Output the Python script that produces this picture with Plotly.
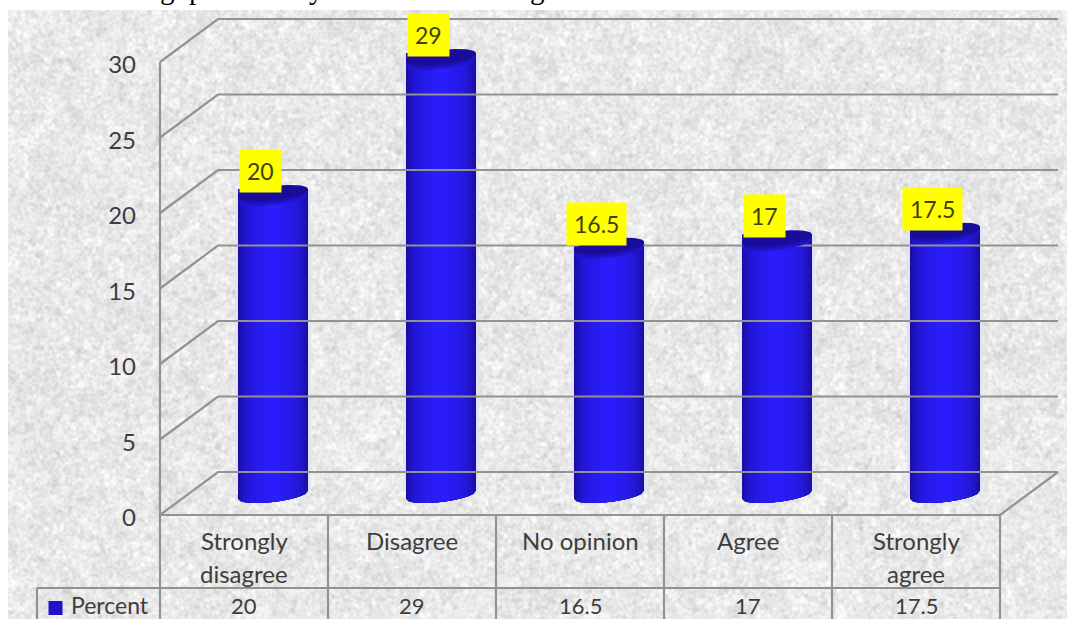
import base64
import struct
import zlib

import numpy as np
import plotly.graph_objects as go

# Survey results
CATEGORIES = ["Strongly<br>disagree", "Disagree", "No opinion", "Agree", "Strongly<br>agree"]
PERCENT = [20, 29, 16.5, 17, 17.5]
PERCENT_LABELS = ["20", "29", "16.5", "17", "17.5"]
Y_TICKS = [0, 5, 10, 15, 20, 25, 30]
SERIES_NAME = "Percent"

# Descenders of the running text line cut off by the top of the page
HEADER_GLYPHS = ["g", "p", "y", "g"]
HEADER_X = [167, 196, 316, 537]

W, H = 1067, 619
ZERO_PY = 491.0      # pixel row of value 0 on the plane the cylinders stand on
PX_PER_UNIT = 15.1
PX_PER_CAT = 168.0
FIRST_CAT_PX = 273.0
FRONT_DY = 24 / PX_PER_UNIT    # floor front edge lies below the cylinder plane
BACK_DY = 19 / PX_PER_UNIT     # back wall lies above it
DEPTH_X = 29 / PX_PER_CAT      # half of the floor depth in category units
HALF_W = 35 / PX_PER_CAT
LABEL_DX = 13 / PX_PER_CAT
TILT = 4 / PX_PER_UNIT
RY = 7 / PX_PER_UNIT

TEXT = "#3d3d3d"
GRID = "#929292"
FONT = "Lato"

Y_RANGE = [(ZERO_PY - H) / PX_PER_UNIT, ZERO_PY / PX_PER_UNIT]
X_RANGE = [-FIRST_CAT_PX / PX_PER_CAT, (W - FIRST_CAT_PX) / PX_PER_CAT]
xp = list(range(len(PERCENT)))


def grain_png(w, h):
    """Mottled stone fill for the chart area, encoded as a greyscale PNG."""
    rng = np.random.default_rng(11)
    img = np.zeros((h, w))
    for cell, amp in [(1, 3.0), (2, 4.5), (4, 4.0), (9, 2.5), (24, 2.0)]:
        coarse = rng.normal(size=(h // cell + 2, w // cell + 2))
        fine = np.kron(coarse, np.ones((cell, cell)))[:h, :w]
        for axis in (0, 1):
            fine = (fine + np.roll(fine, 1, axis) + np.roll(fine, -1, axis)) / 3
        img += amp * fine / fine.std()
    data = np.clip(233 + img, 195, 252).astype(np.uint8)
    raw = b"".join(b"\x00" + row.tobytes() for row in data)

    def chunk(tag, body):
        return struct.pack(">I", len(body)) + tag + body + struct.pack(">I", zlib.crc32(tag + body))

    png = b"\x89PNG\r\n\x1a\n" + chunk(b"IHDR", struct.pack(">IIBBBBB", w, h, 8, 0, 0, 0, 0))
    png += chunk(b"IDAT", zlib.compress(raw, 9)) + chunk(b"IEND", b"")
    return "data:image/png;base64," + base64.b64encode(png).decode()


def arc(center_x, center_y, frac, n=24):
    """Lower edge of a tilted ellipse between -frac and +frac of the cylinder width."""
    dx = np.linspace(-frac, frac, n)
    return center_x + dx * HALF_W, center_y + TILT * dx - RY * np.sqrt(np.clip(1 - dx**2, 0, 1))


def foot_polygons(frac):
    xs, ys = [], []
    for i in xp:
        ax, ay = arc(i, -TILT, frac)
        xs += [i - frac * HALF_W, *ax, i + frac * HALF_W, None]
        ys += [0, *ay, 0, None]
    return xs, ys


def cap_polygons(drop=0.0):
    xs, ys = [], []
    t = np.linspace(0, 2 * np.pi, 50)
    for i, v in zip(xp, PERCENT):
        dx = np.cos(t)
        cy = v - TILT - drop
        xs += [*(i + dx * HALF_W), None]
        ys += [*(cy + TILT * dx + RY * np.sin(t)), None]
    return xs, ys


fig = go.Figure()


def wall_line(xs, ys, axis="y"):
    fig.add_trace(go.Scatter(x=xs, y=ys, mode="lines", yaxis=axis, hoverinfo="skip", showlegend=False,
                             line=dict(color=GRID, width=2.2)))


left_front = X_RANGE[0] + 160 / PX_PER_CAT
right_front = X_RANGE[0] + 1000 / PX_PER_CAT
left_back = left_front + 2 * DEPTH_X
right_back = right_front + 2 * DEPTH_X

# Side wall diagonals and back wall gridlines
for tick in Y_TICKS:
    wall_line([left_front, left_back, right_back],
              [tick - FRONT_DY, tick + BACK_DY, tick + BACK_DY])
wall_line([right_front, right_back], [-FRONT_DY, BACK_DY])

# Cylinder bodies: pale halo, then concentric bars from the dark rim to the bright core
bands = [(1.08, "#e2e2f5"), (1.0, "#1a0fa0"), (0.95, "#1d11b4"), (0.88, "#2014c6"),
         (0.78, "#2317d8"), (0.64, "#2619e6"), (0.46, "#281bf0"), (0.24, "#2b1dfa")]
for frac, color in bands:
    if frac <= 1.0:
        fx, fy = foot_polygons(frac)
        fig.add_trace(go.Scatter(x=fx, y=fy, mode="lines", fill="toself", fillcolor=color,
                                 line=dict(width=0), hoverinfo="skip", showlegend=False))
    fig.add_trace(go.Bar(x=xp, y=PERCENT, width=2 * HALF_W * frac, marker=dict(color=color, line_width=0),
                         name=SERIES_NAME, showlegend=False, hoverinfo="skip"))

# Soft shadow under the rim, then the dark top face
for drop_px, color in [(5, "#2115cc"), (2.5, "#1c10b0")]:
    sx, sy = cap_polygons(drop_px / PX_PER_UNIT)
    fig.add_trace(go.Scatter(x=sx, y=sy, mode="lines", fill="toself", fillcolor=color,
                             line=dict(width=0), hoverinfo="skip", showlegend=False))
cx, cy = cap_polygons()
fig.add_trace(go.Scatter(x=cx, y=cy, mode="lines", fill="toself", fillcolor="#180c98",
                         line=dict(width=0), hoverinfo="skip", showlegend=False))

# Front edge, data table grid and the value axis; these use the front-plane axis
bottom = Y_RANGE[0] + FRONT_DY
header_rule = (515 - 588) / PX_PER_UNIT
cell_edges = [left_front + k for k in range(6)]
wall_line([left_front, left_front], [Y_TICKS[-1], bottom], "y2")
for edge in cell_edges[1:]:
    wall_line([edge, edge], [0, bottom], "y2")
wall_line([left_front, right_front], [0, 0], "y2")
table_left = X_RANGE[0] + 37 / PX_PER_CAT
wall_line([table_left, right_front], [header_rule, header_rule], "y2")
wall_line([table_left, table_left], [header_rule, bottom], "y2")

# Legend key in the data table
fig.add_trace(go.Scatter(x=[X_RANGE[0] + 55.5 / PX_PER_CAT], y=[(515 - 608) / PX_PER_UNIT], yaxis="y2",
                         mode="markers", marker=dict(symbol="square", size=14, color="#1f12c8"),
                         hoverinfo="skip", showlegend=False))

annotations = []
# Yellow value labels sit on the cylinder tops, shifted towards the left edge
for i, (v, label) in enumerate(zip(PERCENT, PERCENT_LABELS)):
    annotations.append(dict(x=i - LABEL_DX, y=v, yshift=-4, text=label, showarrow=False,
                            xanchor="center", yanchor="bottom", bgcolor="#ffff00", borderpad=7,
                            font=dict(family=FONT, size=23, color="#3f3f10")))
# Category and value rows of the data table
for i, (cat, label) in enumerate(zip(CATEGORIES, PERCENT_LABELS)):
    cell_x = i - DEPTH_X
    for j, line in enumerate(cat.split("<br>")):
        annotations.append(dict(x=cell_x, y=(491 - 540 - j * 33) / PX_PER_UNIT, text=line, showarrow=False,
                                xanchor="center", yanchor="middle",
                                font=dict(family=FONT, size=24, color=TEXT)))
    annotations.append(dict(x=cell_x, y=(491 - 605) / PX_PER_UNIT, text=label, showarrow=False,
                            xanchor="center", yanchor="middle", borderpad=0,
                            font=dict(family=FONT, size=22, color=TEXT)))
annotations.append(dict(x=X_RANGE[0] + 70 / PX_PER_CAT, y=(491 - 605) / PX_PER_UNIT, text=SERIES_NAME,
                        showarrow=False, xanchor="left", yanchor="middle", borderpad=0,
                        font=dict(family=FONT, size=23, color=TEXT)))
for glyph, px in zip(HEADER_GLYPHS, HEADER_X):
    annotations.append(dict(xref="paper", yref="paper", x=px / W, y=1 - 5.5 / H, text=glyph, showarrow=False,
                            xanchor="center", yanchor="bottom", borderpad=0,
                            font=dict(family="Liberation Serif", size=29, color="#000000")))

fig.update_layout(
    width=W, height=H, margin=dict(l=0, r=0, t=0, b=0), autosize=False,
    paper_bgcolor="#ffffff", plot_bgcolor="rgba(0,0,0,0)",
    barmode="overlay", showlegend=False, annotations=annotations,
    xaxis=dict(range=X_RANGE, domain=[0, 1], visible=False, fixedrange=True),
    yaxis=dict(range=Y_RANGE, domain=[0, 1], visible=False, fixedrange=True),
    yaxis2=dict(range=[Y_RANGE[0] + FRONT_DY, Y_RANGE[1] + FRONT_DY], overlaying="y", anchor="free",
                position=160 / W, side="left", tickvals=Y_TICKS, showgrid=False, zeroline=False,
                ticks="", showline=False, ticklabelstandoff=24, ticklabelshift=3, fixedrange=True,
                tickfont=dict(family=FONT, size=24, color=TEXT)),
    images=[dict(source=grain_png(W - 8, H - 10), xref="paper", yref="paper", x=8 / W, y=1 - 10 / H,
                 sizex=(W - 8) / W, sizey=(H - 10) / H, sizing="stretch", xanchor="left", yanchor="top",
                 layer="below")],
)

fig.write_html("out.html", config={"displayModeBar": False})
